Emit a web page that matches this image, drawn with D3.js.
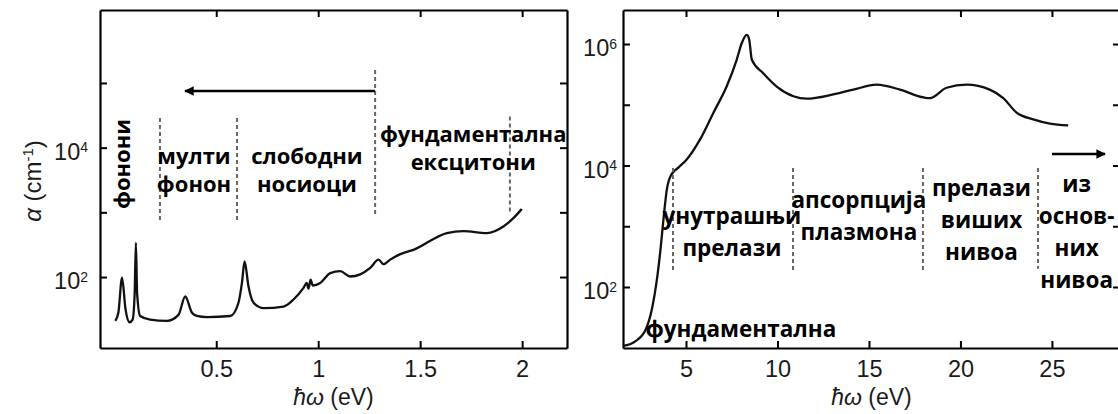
<!DOCTYPE html>
<html><head><meta charset="utf-8">
<script src="https://cdn.jsdelivr.net/npm/d3@7"></script>
<style>
html,body{margin:0;padding:0;background:#fff;}
svg{display:block;}
.tk text{font-family:"Liberation Sans",Arial,sans-serif;font-size:23.5px;fill:#1a1a1a;}
.ann{font-family:"Open Sans",sans-serif;font-weight:700;fill:#000;}
</style></head>
<body><svg id="c" width="1118" height="414"></svg>
<script>
// ---- data: left panel (low energy) ----
const leftEnergy = [0.005,0.02,0.038,0.055,0.075,0.09,0.1,0.106,0.112,0.127,0.176,0.258,0.315,0.348,0.381,0.405,0.454,0.569,0.609,0.626,0.639,0.658,0.683,0.732,0.83,0.879,0.928,0.944,0.952,0.963,0.973,1.01,1.059,1.108,1.157,1.206,1.255,1.296,1.32,1.353,1.40,1.467,1.631,1.712,1.827,1.908,1.957,1.998];
const leftAlpha  = [21,28,98,32,20,22,56,340,56,25,22,21,26,50,28,25,24,25,40,81,174,72,40,33,35,45,68,81,66,91,74,81,115,123,102,110,138,186,158,186,224,263,479,513,479,603,813,1122];
// ---- data: right panel (high energy) ----
const rightEnergy = [1.57,2.2,2.8,3.15,3.4,3.6,3.78,3.95,4.2,4.6,5.04,5.77,6.5,7.22,7.77,8.04,8.32,8.45,8.6,9.22,9.96,10.87,11.6,13.05,14.15,15.42,16.69,18.0,18.33,19.24,20.33,21.6,22.34,23.07,23.98,24.89,25.89];
const rightAlpha  = [10.7,12.6,20,45,126,398,1413,3981,7079,9333,12589,26915,74131,199526,549541,1.02e6,1.41e6,1.2e6,549541,331131,199526,138038,125893,147911,177828,213796,177828,131826,128825,190546,213796,177828,128825,74131,57544,48978,45709];
// ticks
const leftXTicks = [0.5,1,1.5,2];
const leftYTicks = [1e2,1e3,1e4,1e5];
const leftYLabels = [1e2,1e4];
const rightXTicks = [5,10,15,20,25];
const rightYTicks = [1e2,1e3,1e4,1e5,1e6];
const rightYLabels = [1e2,1e4,1e6];
// region boundaries (eV) and annotation labels
const leftBounds = [0.224,0.602,1.279,1.94];
const rightBounds = [4.29,10.85,17.95,24.24];
const leftLabels = [
  {t:["мулти","фонон"], e:0.391, a:7.7e3},
  {t:["слободни","носиоци"], e:0.945, a:7.7e3},
  {t:["фундаментална","ексцитони"], e:1.76, a:1.69e4}
];
const rightLabels = [
  {t:["унутрашњи","прелази"], e:7.51, a:1.53e3},
  {t:["апсорпција","плазмона"], e:14.45, a:2.81e3},
  {t:["прелази","виших","нивоа"], e:21.15, a:4.27e3},
  {t:["из","основ-","них","нивоа"], e:26.35, a:5.15e3},
  {t:["фундаментална"], e:8.0, a:21}
];

const svg = d3.select("#c");
svg.append("rect").attr("width",1118).attr("height",414).attr("fill","#fff");
const defs = svg.append("defs");
defs.append("marker").attr("id","ah").attr("viewBox","0 0 10 10").attr("refX",9).attr("refY",5)
  .attr("markerWidth",5).attr("markerHeight",4).attr("orient","auto-start-reverse")
  .attr("markerUnits","strokeWidth")
  .append("path").attr("d","M0,0 L10,5 L0,10 z").attr("fill","#000");

function sup(sel, base, exp){
  sel.text(null);
  sel.append("tspan").text(base);
  sel.append("tspan").attr("dy","-0.55em").attr("font-size","14px").text(exp);
}

function panel(o){
  const x = d3.scaleLinear().domain(o.xd).range([o.x0,o.x1]);
  const y = d3.scaleLog().domain(o.yd).range([o.y1,o.y0]);
  const g = svg.append("g");
  const T = 7;
  const gb = g.append("g").attr("class","tk").attr("transform",`translate(0,${o.y1})`)
    .call(d3.axisBottom(x).tickValues(o.xt).tickSize(-T).tickSizeOuter(0).tickPadding(12).tickFormat(d3.format("")));
  const gt = g.append("g").attr("class","tk").attr("transform",`translate(0,${o.y0})`)
    .call(d3.axisTop(x).tickValues(o.xt).tickSize(-T).tickSizeOuter(0).tickFormat(""));
  const gl = g.append("g").attr("class","tk").attr("transform",`translate(${o.x0},0)`)
    .call(d3.axisLeft(y).tickValues(o.yt).tickSize(-T).tickSizeOuter(0).tickPadding(o.pad)
      .tickFormat(d => o.yl.includes(d) ? "x" : ""));
  gl.selectAll(".tick text").each(function(d){
    const s = d3.select(this);
    if(!o.yl.includes(d)) return;
    s.attr("dy","0.5em");
    sup(s,"10",String(Math.round(Math.log10(d))));
  });
  const gr = g.append("g").attr("class","tk").attr("transform",`translate(${o.x1},0)`)
    .call(d3.axisRight(y).tickValues(o.yt).tickSize(-T).tickSizeOuter(0).tickFormat(""));
  [gb,gt,gl,gr].forEach(a=>{
    a.select(".domain").attr("stroke","#000").attr("stroke-width",2.2);
    a.selectAll(".tick line").attr("stroke","#000").attr("stroke-width",2);
  });
  g.append("path").datum(d3.zip(o.e,o.a))
    .attr("d", d3.line().x(d=>x(d[0])).y(d=>y(d[1])).curve(d3.curveMonotoneX))
    .attr("fill","none").attr("stroke","#111").attr("stroke-width",2.3).attr("stroke-linejoin","round");
  const xt = g.append("text").attr("x",(o.x0+o.x1)/2).attr("y",405).attr("text-anchor","middle")
    .attr("font-family","Liberation Sans, Arial, sans-serif").attr("font-size",23).attr("fill","#1a1a1a");
  xt.append("tspan").attr("font-style","italic").text("ħω");
  xt.append("tspan").text(" (eV)");
  return {x,y,g};
}

const L = panel({xd:[-0.07,2.22], x0:100, x1:567, yd:[Math.pow(10,0.903),Math.pow(10,6.128)], y0:10, y1:348,
  xt:leftXTicks, yt:leftYTicks, yl:leftYLabels, e:leftEnergy, a:leftAlpha, pad:12});
const R = panel({xd:[1.557,28.72], x0:623, x1:1120, yd:[Math.pow(10,0.996),Math.pow(10,6.56)], y0:10, y1:348,
  xt:rightXTicks, yt:rightYTicks, yl:rightYLabels, e:rightEnergy, a:rightAlpha, pad:6});

// y title
const yt = svg.append("text").attr("transform","translate(41,181) rotate(-90)").attr("text-anchor","middle")
  .attr("font-family","Liberation Sans, Arial, sans-serif").attr("font-size",24).attr("fill","#1a1a1a");
yt.append("tspan").attr("font-style","italic").text("α");
yt.append("tspan").text(" (cm");
yt.append("tspan").attr("dy","-0.55em").attr("font-size","15px").text("-1");
yt.append("tspan").attr("dy","0.37em").text(")");

function dashes(P, bounds, spans){
  bounds.forEach((b,i)=>{
    P.g.append("line").attr("x1",P.x(b)).attr("x2",P.x(b))
      .attr("y1",P.y(spans[i][0])).attr("y2",P.y(spans[i][1]))
      .attr("stroke","#666").attr("stroke-width",2).attr("stroke-dasharray","4,3");
  });
}
dashes(L, leftBounds, [[2.88e4,762],[2.88e4,762],[1.58e5,912],[3.02e4,977]]);
dashes(R, rightBounds, [[9120,178],[9120,178],[9120,178],[9120,200]]);

L.g.append("line").attr("x1",L.x(1.279)).attr("x2",L.x(0.347)).attr("y1",L.y(7.5e4)).attr("y2",L.y(7.5e4))
  .attr("stroke","#000").attr("stroke-width",2.4).attr("marker-end","url(#ah)");
R.g.append("line").attr("x1",R.x(25.0)).attr("x2",R.x(27.9)).attr("y1",R.y(1.55e4)).attr("y2",R.y(1.55e4))
  .attr("stroke","#000").attr("stroke-width",2.4).attr("marker-end","url(#ah)");

function labels(P, list, lh, fs){
  list.forEach(l=>{
    const cx = P.x(l.e), cy = P.y(l.a);
    l.t.forEach((s,i)=>{
      P.g.append("text").attr("class","ann").attr("font-size",fs).attr("x",cx).attr("y",cy + i*lh)
        .attr("text-anchor","middle").attr("dominant-baseline","central").text(s);
    });
  });
}
labels(L, leftLabels, 28, 22);
labels(R, rightLabels, 32, 22.5);
L.g.append("text").attr("class","ann").attr("font-size",22).attr("transform",`translate(${L.x(0.033)},${L.y(5600)}) rotate(-90)`)
  .attr("text-anchor","middle").attr("dominant-baseline","central").text("фонони");
</script></body></html>
